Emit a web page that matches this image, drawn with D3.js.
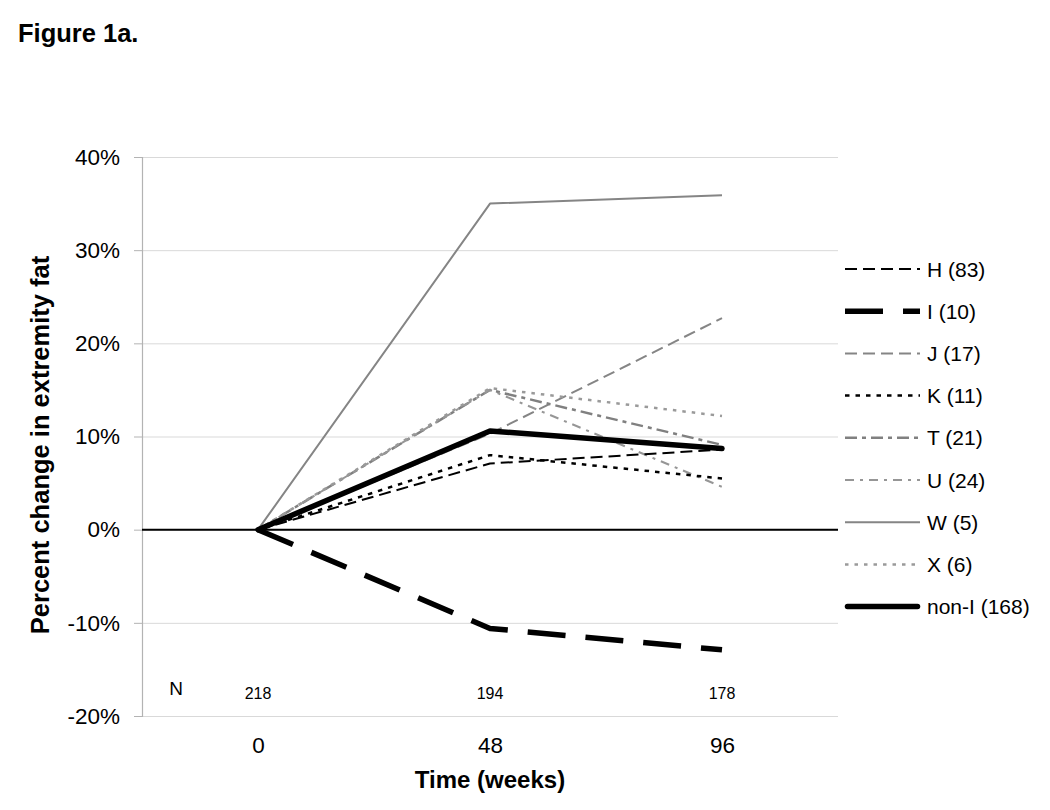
<!DOCTYPE html>
<html>
<head>
<meta charset="utf-8">
<script src="https://cdn.jsdelivr.net/npm/d3@7"></script>
<style>
  html, body { margin: 0; padding: 0; background: #fff; }
  svg { display: block; font-family: "Liberation Sans", Arial, sans-serif; }
</style>
</head>
<body>
<svg id="chart" width="1050" height="810"></svg>
<script>
// ---- data ----
const timepoints = ["0", "48", "96"];
const sampleN = ["218", "194", "178"];
const yTicks = [-0.2, -0.1, 0, 0.1, 0.2, 0.3, 0.4];

const seriesNames = ["H (83)", "I (10)", "J (17)", "K (11)", "T (21)", "U (24)", "W  (5)", "X (6)", "non-I (168)"];
const valuesH    = [0, 0.071, 0.086];
const valuesI    = [0, -0.106, -0.129];
const valuesJ    = [0, 0.103, 0.227];
const valuesK    = [0, 0.080, 0.055];
const valuesT    = [0, 0.150, 0.091];
const valuesU    = [0, 0.150, 0.046];
const valuesW    = [0, 0.350, 0.359];
const valuesX    = [0, 0.152, 0.122];
const valuesNonI = [0, 0.106, 0.087];

const seriesValues = [valuesH, valuesI, valuesJ, valuesK, valuesT, valuesU, valuesW, valuesX, valuesNonI];

// ---- styles (kept separate from data) ----
const styles = [
  { color: "#000000", width: 2,   dash: "12,6",        cap: "butt" },   // H
  { color: "#000000", width: 5.5, dash: "38,20",       cap: "butt" },   // I
  { color: "#858585", width: 2,   dash: "12,6",        cap: "butt" },   // J
  { color: "#000000", width: 2.5, dash: "4.5,6",       cap: "butt" },   // K
  { color: "#808080", width: 2.5, dash: "12,5,4,5",    cap: "butt" },   // T
  { color: "#969696", width: 2,   dash: "9,6,3,6",     cap: "butt" },   // U
  { color: "#858585", width: 2,   dash: null,          cap: "butt" },   // W
  { color: "#9a9a9a", width: 2.5, dash: "3.5,6",       cap: "butt" },   // X
  { color: "#000000", width: 5.5, dash: null,          cap: "round" }   // non-I
];

const svg = d3.select("#chart");
const plotLeft = 142, plotRight = 838, plotTop = 157, plotBottom = 716;

const x = d3.scalePoint().domain(timepoints).range([plotLeft, plotRight]).padding(0.5);
const y = d3.scaleLinear().domain([-0.2, 0.4]).range([plotBottom, plotTop]);
const pctFormat = d => Math.round(d * 100) + "%";

// Title
svg.append("text")
  .attr("x", 18).attr("y", 42)
  .attr("font-size", 25.5).attr("font-weight", "bold")
  .text("Figure 1a.");

// Gridlines
svg.append("g")
  .attr("transform", `translate(${plotLeft},0)`)
  .call(d3.axisLeft(y).tickValues(yTicks).tickSize(-(plotRight - plotLeft)).tickFormat(""))
  .call(g => g.select(".domain").remove())
  .call(g => g.selectAll("line").attr("stroke", "#d9d9d9").attr("stroke-width", 1));

// Y axis
const yAxis = svg.append("g")
  .attr("transform", `translate(${plotLeft},0)`)
  .call(d3.axisLeft(y).tickValues(yTicks).tickSize(8).tickPadding(14).tickFormat(pctFormat));
yAxis.select(".domain").attr("stroke", "#b3b3b3").attr("stroke-width", 1.2);
yAxis.selectAll("line").attr("stroke", "#b3b3b3");
yAxis.selectAll("text").attr("font-size", 22.5).attr("fill", "#000")
  .attr("font-family", "'Liberation Sans', Arial, sans-serif");

// Zero line
svg.append("line")
  .attr("x1", plotLeft).attr("x2", plotRight)
  .attr("y1", y(0)).attr("y2", y(0))
  .attr("stroke", "#000").attr("stroke-width", 2);

// X axis labels
const xAxis = svg.append("g")
  .attr("transform", `translate(0,${plotBottom})`)
  .call(d3.axisBottom(x).tickSize(0).tickPadding(21));
xAxis.select(".domain").remove();
xAxis.selectAll("text").attr("font-size", 22.5).attr("fill", "#000")
  .attr("font-family", "'Liberation Sans', Arial, sans-serif");

// N labels
svg.append("text")
  .attr("x", 176).attr("y", 695)
  .attr("text-anchor", "middle")
  .attr("font-size", 19)
  .text("N");
svg.selectAll("text.nlab")
  .data(sampleN)
  .join("text")
  .attr("class", "nlab")
  .attr("x", (d, i) => x(timepoints[i]))
  .attr("y", 699)
  .attr("text-anchor", "middle")
  .attr("font-size", 16)
  .text(d => d);

// Axis titles
svg.append("text")
  .attr("x", x("48")).attr("y", 788)
  .attr("text-anchor", "middle")
  .attr("font-size", 24).attr("font-weight", "bold")
  .text("Time (weeks)");
svg.append("text")
  .attr("transform", "translate(49,445) rotate(-90)")
  .attr("text-anchor", "middle")
  .attr("font-size", 25.5).attr("font-weight", "bold")
  .text("Percent change in extremity fat");

// Lines
const line = d3.line()
  .x((d, i) => x(timepoints[i]))
  .y(d => y(d));

const drawOrder = [6, 2, 4, 5, 7, 0, 3, 1, 8];
drawOrder.forEach(k => {
  const s = styles[k];
  svg.append("path")
    .datum(seriesValues[k])
    .attr("d", line)
    .attr("fill", "none")
    .attr("stroke", s.color)
    .attr("stroke-width", s.width)
    .attr("stroke-dasharray", s.dash)
    .attr("stroke-linecap", s.cap)
    .attr("stroke-linejoin", "round");
});

// Legend
const legend = svg.append("g");
seriesNames.forEach((name, i) => {
  const s = styles[i];
  const ly = 269 + i * 42.2;
  const capInset = s.cap === "round" ? 2.5 : 0;
  legend.append("line")
    .attr("x1", 845 + capInset).attr("x2", 920 - capInset)
    .attr("y1", ly).attr("y2", ly)
    .attr("stroke", s.color)
    .attr("stroke-width", s.width)
    .attr("stroke-dasharray", s.dash)
    .attr("stroke-linecap", s.cap);
  legend.append("text")
    .attr("x", 927).attr("y", ly)
    .attr("dy", "0.36em")
    .attr("font-size", 21)
    .text(name);
});
</script>
</body>
</html>
